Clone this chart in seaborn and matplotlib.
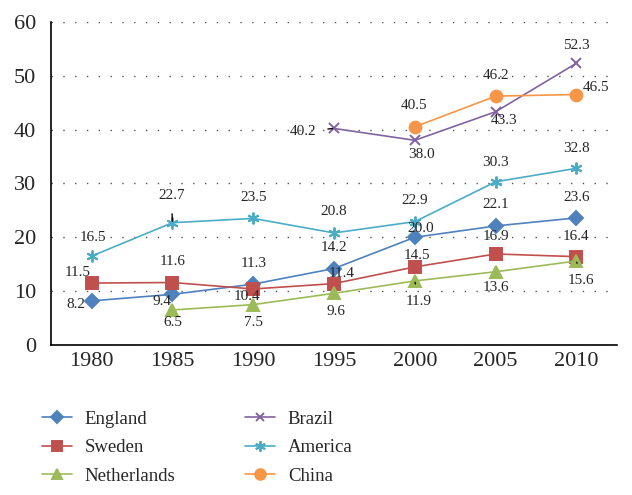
import numpy as np
import pandas as pd
import seaborn as sns
import matplotlib.pyplot as plt

years = ['1980', '1985', '1990', '1995', '2000', '2005', '2010']
england = [8.2, 9.4, 11.3, 14.2, 20.0, 22.1, 23.6]
sweden = [11.5, 11.6, 10.4, 11.4, 14.5, 16.9, 16.4]
netherlands = [np.nan, 6.5, 7.5, 9.6, 11.9, 13.6, 15.6]
brazil = [np.nan, np.nan, np.nan, 40.2, 38.0, 43.3, 52.3]
america = [16.5, 22.7, 23.5, 20.8, 22.9, 30.3, 32.8]
china = [np.nan, np.nan, np.nan, np.nan, 40.5, 46.2, 46.5]

series = {'England': england, 'Sweden': sweden, 'Netherlands': netherlands,
          'Brazil': brazil, 'America': america, 'China': china}
colors = {'England': '#4F81BD', 'Sweden': '#C0504D', 'Netherlands': '#9BBB59',
          'Brazil': '#8064A2', 'America': '#4BACC6', 'China': '#F79646'}
markers = {'England': 'D', 'Sweden': 's', 'Netherlands': '^',
           'Brazil': 'x', 'America': (6, 2, 0), 'China': 'o'}
msize = {'England': 7, 'Sweden': 8, 'Netherlands': 8,
         'Brazil': 7, 'America': 8.5, 'China': 8.5}

# label offsets in pixels (dx, dy); leaders get a short black line
offsets = {
    'England': [(-16, -4), (-10, -7), (0, 21), (0, 21), (6, 9), (0, 21), (0, 20)],
    'Sweden': [(-14, 11), (0, 21), (-6, -8), (8, 10), (2, 11), (0, 17), (0, 20)],
    'Netherlands': [None, (0, -13), (0, -18), (2, -18), (4, -21), (0, -16), (5, -20)],
    'Brazil': [None, None, None, (-31, -3), (7, -14), (8, -9), (0, 18)],
    'America': [(1, 19), (-1, 27), (0, 21), (0, 21), (0, 21), (0, 19), (0, 20)],
    'China': [None, None, None, None, (-1, 21), (0, 21), (20, 7)],
}
leaders = {('Netherlands', 4), ('Netherlands', 6), ('Brazil', 3), ('America', 1)}

sns.set_style('white')
plt.rcParams['font.family'] = ['Liberation Serif', 'DejaVu Serif']

fig = plt.figure(figsize=(6.32, 4.95), dpi=100)
ax = fig.add_axes([0.081, 0.303, 0.895, 0.653])

for name, vals in series.items():
    d = pd.DataFrame({'x': range(len(years)), 'value': vals}).dropna()
    sns.lineplot(data=d, x='x', y='value', color=colors[name], marker=markers[name],
                 markersize=msize[name], markeredgewidth=1.4,
                 markeredgecolor=colors[name], linewidth=1.2, ax=ax, label=name)

for name, vals in series.items():
    for i, v in enumerate(vals):
        if np.isnan(v):
            continue
        dx, dy = offsets[name][i]
        arrow = None
        if (name, i) in leaders:
            arrow = dict(arrowstyle='-', color='black', lw=1, shrinkA=6, shrinkB=1)
        ax.annotate(f'{v:.1f}', xy=(i, v), xytext=(dx, dy),
                    textcoords='offset pixels', ha='center', va='center',
                    fontsize=11, arrowprops=arrow)

ax.set_xlim(-0.5, 6.5)
ax.set_ylim(0, 60)
ax.set_yticks(range(0, 61, 10))
ax.set_xticks(range(len(years)))
ax.set_xticklabels(years)
ax.set_xticks(np.arange(-0.5, 7, 1), minor=True)
ax.tick_params(axis='x', which='major', length=0, labelsize=16, pad=5)
ax.tick_params(axis='x', which='minor', length=5, width=1, direction='out', color='black')
ax.tick_params(axis='y', length=5, width=1, direction='out', color='black',
               labelsize=16, pad=6)
ax.set_xlabel('')
ax.set_ylabel('')
ax.yaxis.grid(True, linestyle=(0, (1, 7.5)), color='#555555', linewidth=1)
ax.set_axisbelow(True)
for s in ['top', 'right']:
    ax.spines[s].set_visible(False)
for s in ['left', 'bottom']:
    ax.spines[s].set_color('black')
    ax.spines[s].set_linewidth(1.2)

ax.get_legend().remove()
handles = [plt.Line2D([], [], color=colors[n], marker=markers[n], markersize=msize[n] * 0.9,
                      markeredgewidth=1.4, lw=1.2) for n in series]
fig.legend(handles, list(series.keys()), ncol=2, loc='upper left',
           bbox_to_anchor=(0.039, 0.205), frameon=False, fontsize=13.5,
           handlelength=1.6, columnspacing=3.7, labelspacing=0.61, handletextpad=0.7)

fig.savefig('out.png', dpi=100)
